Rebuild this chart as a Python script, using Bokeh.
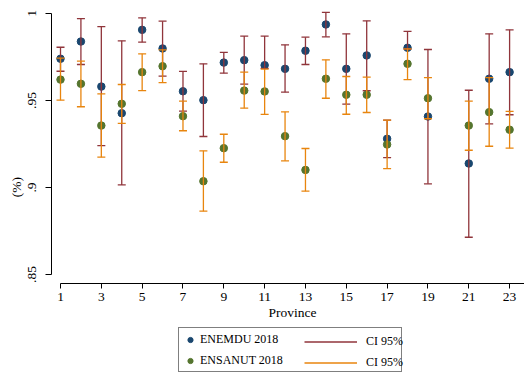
from bokeh.plotting import figure
from bokeh.models import (Range1d, FixedTicker, Legend, LegendItem, ColumnDataSource,
                          CustomJSTickFormatter, LinearAxis)
from bokeh.embed import file_html
from bokeh.resources import INLINE

# ---- data ----
provinces = [1, 2, 3, 4, 5, 6, 7, 8, 9, 10, 11, 12, 13, 14, 15, 16, 17, 18, 19, 21, 22, 23]

enemdu = [0.9740, 0.9839, 0.9580, 0.9427, 0.9906, 0.9799, 0.9553, 0.9502, 0.9718, 0.9732, 0.9703,
          0.9682, 0.9786, 0.9937, 0.9682, 0.9759, 0.9280, 0.9803, 0.9408, 0.9138, 0.9625, 0.9663]
enemdu_lo = [0.9668, 0.9707, 0.9241, 0.9015, 0.9835, 0.9640, 0.9439, 0.9293, 0.9657, 0.9594, 0.9685,
             0.9548, 0.9707, 0.9866, 0.9479, 0.9556, 0.9172, 0.9795, 0.9021, 0.8714, 0.9366, 0.9418]
enemdu_hi = [0.9806, 0.9970, 0.9925, 0.9843, 0.9975, 0.9956, 0.9667, 0.9711, 0.9776, 0.9870, 0.9870,
             0.9820, 0.9864, 1.0006, 0.9883, 0.9958, 0.9387, 0.9897, 0.9793, 0.9559, 0.9883, 0.9906]

ensanut = [0.9620, 0.9596, 0.9356, 0.9481, 0.9663, 0.9697, 0.9410, 0.9036, 0.9226, 0.9557, 0.9552,
           0.9295, 0.9101, 0.9625, 0.9533, 0.9533, 0.9247, 0.9711, 0.9513, 0.9356, 0.9433, 0.9332]
ensanut_lo = [0.9502, 0.9464, 0.9174, 0.9368, 0.9557, 0.9603, 0.9326, 0.8864, 0.9145, 0.9456, 0.9420,
              0.9153, 0.8979, 0.9513, 0.9421, 0.9431, 0.9109, 0.9620, 0.9395, 0.9214, 0.9237, 0.9226]
ensanut_hi = [0.9743, 0.9726, 0.9538, 0.9592, 0.9768, 0.9791, 0.9496, 0.9211, 0.9306, 0.9663, 0.9680,
              0.9435, 0.9224, 0.9734, 0.9638, 0.9634, 0.9387, 0.9797, 0.9632, 0.9496, 0.9632, 0.9437]

x_ticks = [1, 3, 5, 7, 9, 11, 13, 15, 17, 19, 21, 23]
y_ticks = [0.85, 0.90, 0.95, 1.0]

series_labels = ["ENEMDU 2018", "ENSANUT 2018"]
ci_label = "CI 95%"

FONT = "Liberation Serif"
NAVY = "#1a476f"
MAROON = "#90353b"
GREEN = "#55752f"
ORANGE = "#e8850e"

src1 = ColumnDataSource(dict(x=provinces, y=enemdu, lo=enemdu_lo, hi=enemdu_hi))
src2 = ColumnDataSource(dict(x=provinces, y=ensanut, lo=ensanut_lo, hi=ensanut_hi))

# frame spans the full canvas height; x axis is drawn at a fixed data location
Y_AXIS_AT = 0.84483
p = figure(width=524, height=373, output_backend="svg", toolbar_location=None,
           x_range=Range1d(0.559, 23.73), y_range=Range1d(0.79310, 1.00747),
           x_axis_location=None,
           min_border_left=51, min_border_right=0, min_border_top=0, min_border_bottom=0)
p.outline_line_color = None
p.xgrid.visible = False
p.ygrid.visible = False
p.background_fill_color = "white"
p.border_fill_color = "white"

# draw order: blue dots, red CI, green dots, orange CI
r_blue = p.scatter("x", "y", source=src1, size=7.5, fill_color=NAVY, line_color=NAVY)

def ci(src, color):
    seg = p.segment(x0="x", y0="lo", x1="x", y1="hi", source=src, line_color=color, line_width=1.3)
    p.scatter("x", "lo", source=src, marker="dash", size=8, line_color=color, line_width=1.3)
    p.scatter("x", "hi", source=src, marker="dash", size=8, line_color=color, line_width=1.3)
    return seg

r_red = ci(src1, MAROON)
r_green = p.scatter("x", "y", source=src2, size=7.5, fill_color=GREEN, line_color=GREEN)
r_orange = ci(src2, ORANGE)

xaxis = LinearAxis(fixed_location=Y_AXIS_AT)
p.add_layout(xaxis, "below")

for ax in (xaxis, p.yaxis[0]):
    ax.axis_line_color = "black"
    ax.axis_line_width = 1
    ax.major_tick_line_color = "black"
    ax.major_tick_in = 0
    ax.major_tick_out = 5
    ax.minor_tick_line_color = None
    ax.major_label_text_font = FONT
    ax.major_label_text_font_size = "13.5px"
    ax.major_label_text_color = "black"
    ax.axis_label_text_font = FONT
    ax.axis_label_text_font_size = "13.5px"
    ax.axis_label_text_font_style = "normal"
    ax.axis_label_text_color = "black"

xaxis.ticker = FixedTicker(ticks=x_ticks)
xaxis.bounds = (1, 24)
xaxis.axis_label = "Province"
xaxis.major_label_standoff = 5
xaxis.axis_label_standoff = 0

p.yaxis.ticker = FixedTicker(ticks=y_ticks)
p.yaxis.bounds = (0.85, 1.0)
p.yaxis.axis_label = "(%)"
p.yaxis.major_label_orientation = "vertical"
p.yaxis.major_label_standoff = 9
p.yaxis.axis_label_standoff = 2
p.yaxis.major_tick_out = 6
p.yaxis.formatter = CustomJSTickFormatter(
    code="return tick == 1 ? '1' : ('' + (+tick.toFixed(2))).replace(/^0/, '');")

# legends
legA = Legend(items=[LegendItem(label=series_labels[0], renderers=[r_blue]),
                     LegendItem(label=series_labels[1], renderers=[r_green])],
              location=(127, 1), orientation="vertical",
              glyph_width=20, glyph_height=13, label_height=20, label_width=200,
              label_standoff=0, spacing=1, padding=1, margin=0,
              border_line_color="black", border_line_width=1,
              background_fill_color="white", background_fill_alpha=1,
              label_text_font=FONT, label_text_font_size="12px", label_text_color="black")
legB = Legend(items=[LegendItem(label=ci_label, renderers=[r_red]),
                     LegendItem(label=ci_label, renderers=[r_orange])],
              location=(253, 1), orientation="vertical",
              glyph_width=53, glyph_height=13, label_height=20,
              label_standoff=9, spacing=1, padding=1, margin=0,
              border_line_color=None, background_fill_alpha=0,
              label_text_font=FONT, label_text_font_size="12px", label_text_color="black")
p.add_layout(legA, "center")
p.add_layout(legB, "center")

open("out.html", "w").write(file_html(p, INLINE))
